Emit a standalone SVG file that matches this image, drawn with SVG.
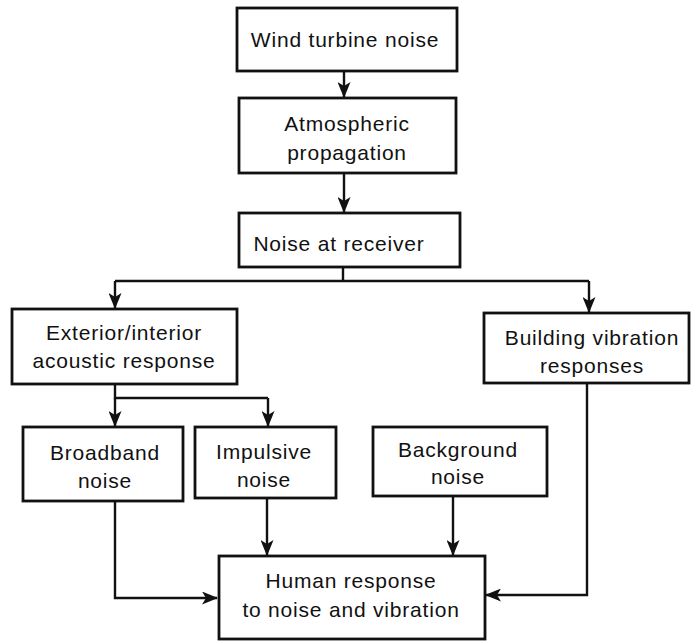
<svg xmlns="http://www.w3.org/2000/svg" width="691" height="641" viewBox="0 0 691 641">
<style>
.box{fill:#fff;stroke:#111;stroke-width:2.8}
.t{font-family:"Liberation Sans",Arial,sans-serif;font-size:21px;letter-spacing:0.8px;fill:#111;text-anchor:middle}
.c{fill:none;stroke:#111;stroke-width:2.4}
</style>
<defs>
<marker id="ah" markerUnits="userSpaceOnUse" markerWidth="16" markerHeight="13" viewBox="0 0 16 13" refX="15" refY="6.5" orient="auto">
<path d="M0,0 L16,6.5 L0,13 L4,6.5 z" fill="#111"/>
</marker>
</defs>
<rect width="691" height="641" fill="#fff"/>
<g id="connectors">
<path class="c" d="M344,71 V97" marker-end="url(#ah)"/>
<path class="c" d="M344,173 V212" marker-end="url(#ah)"/>
<path class="c" d="M343,267 V281"/>
<path class="c" d="M115,281 H589"/>
<path class="c" d="M115,281 V308" marker-end="url(#ah)"/>
<path class="c" d="M589,281 V312" marker-end="url(#ah)"/>
<path class="c" d="M115,384 V398 H268"/>
<path class="c" d="M115,398 V426" marker-end="url(#ah)"/>
<path class="c" d="M268,398 V426" marker-end="url(#ah)"/>
<path class="c" d="M115,501 V598 H217" marker-end="url(#ah)"/>
<path class="c" d="M267,498 V555" marker-end="url(#ah)"/>
<path class="c" d="M453,496 V555" marker-end="url(#ah)"/>
<path class="c" d="M587,383 V595 H486" marker-end="url(#ah)"/>
</g>
<g id="wind-turbine-noise">
<rect class="box" x="237" y="8" width="220" height="63"/>
<text class="t" x="345" y="47">Wind turbine noise</text>
</g>
<g id="atmospheric-propagation">
<rect class="box" x="239" y="98" width="217" height="75"/>
<text class="t" x="347" y="131">Atmospheric</text>
<text class="t" x="347" y="160">propagation</text>
</g>
<g id="noise-at-receiver">
<rect class="box" x="239" y="213" width="221" height="54"/>
<text class="t" x="339" y="251">Noise at receiver</text>
</g>
<g id="exterior-interior">
<rect class="box" x="12" y="309" width="225" height="75"/>
<text class="t" x="124" y="340">Exterior/interior</text>
<text class="t" x="124" y="368">acoustic response</text>
</g>
<g id="building-vibration">
<rect class="box" x="484" y="313" width="205" height="70"/>
<text class="t" x="592" y="345">Building vibration</text>
<text class="t" x="592" y="373">responses</text>
</g>
<g id="broadband-noise">
<rect class="box" x="23" y="427" width="160" height="74"/>
<text class="t" x="105" y="460">Broadband</text>
<text class="t" x="105" y="488">noise</text>
</g>
<g id="impulsive-noise">
<rect class="box" x="195" y="427" width="141" height="71"/>
<text class="t" x="264" y="459">Impulsive</text>
<text class="t" x="264" y="487">noise</text>
</g>
<g id="background-noise">
<rect class="box" x="373" y="427" width="174" height="69"/>
<text class="t" x="458" y="457">Background</text>
<text class="t" x="458" y="484">noise</text>
</g>
<g id="human-response">
<rect class="box" x="219" y="556" width="266" height="83"/>
<text class="t" x="351" y="588">Human response</text>
<text class="t" x="351" y="617">to noise and vibration</text>
</g>
</svg>
